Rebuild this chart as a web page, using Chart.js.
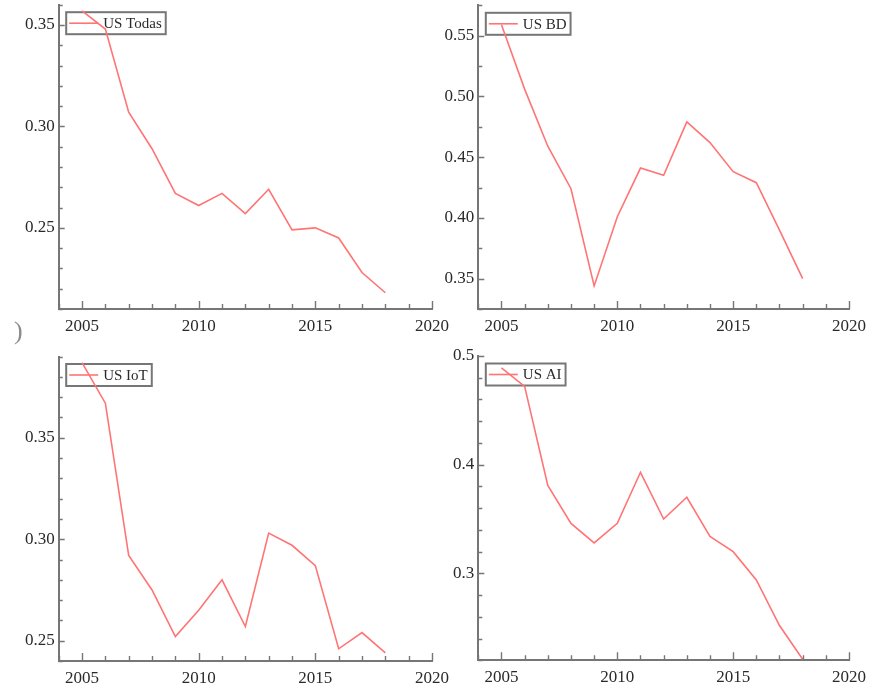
<!DOCTYPE html>
<html>
<head>
<meta charset="utf-8">
<script src="https://cdn.jsdelivr.net/npm/chart.js@4.4.1/dist/chart.umd.min.js"></script>
<style>
  html, body { margin: 0; padding: 0; background: #fff; }
  body { width: 873px; height: 687px; position: relative; overflow: hidden; }
  .panel { position: absolute; }
  .panel canvas { display: block; }
  #stray { position: absolute; left: 14px; top: 318px; font: 26px "Liberation Serif", serif; color: #8c8c8c; line-height: 1; }
</style>
</head>
<body>
<div class="panel" id="p1"><canvas id="c1"></canvas></div>
<div class="panel" id="p2"><canvas id="c2"></canvas></div>
<div class="panel" id="p3"><canvas id="c3"></canvas></div>
<div class="panel" id="p4"><canvas id="c4"></canvas></div>
<div id="stray">)</div>
<script>
// ---- data ----
const years   = [2005, 2006, 2007, 2008, 2009, 2010, 2011, 2012, 2013, 2014, 2015, 2016, 2017, 2018];
const usTodas = [0.357, 0.348, 0.307, 0.289, 0.267, 0.261, 0.267, 0.257, 0.269, 0.249, 0.250, 0.245, 0.228, 0.218];
const usBD    = [0.559, 0.506, 0.459, 0.424, 0.344, 0.401, 0.441, 0.435, 0.479, 0.462, 0.438, 0.429, 0.390, 0.350];
const usIoT   = [0.387, 0.367, 0.292, 0.275, 0.252, 0.265, 0.280, 0.257, 0.303, 0.297, 0.287, 0.246, 0.254, 0.244];
const usAI    = [0.489, 0.472, 0.381, 0.346, 0.328, 0.346, 0.393, 0.350, 0.370, 0.334, 0.320, 0.294, 0.252, 0.221];

// ---- tick labels ----
const yearTicks = [2005, 2010, 2015, 2020];
const ticksTodas = [0.25, 0.30, 0.35];
const ticksBD    = [0.35, 0.40, 0.45, 0.50, 0.55];
const ticksIoT   = [0.25, 0.30, 0.35];
const ticksAI    = [0.3, 0.4, 0.5];

// ---- panel setup (axis ranges and placement) ----
const panels = [
  { canvas: 'c1', box: 'p1', label: 'US Todas', values: usTodas, majors: ticksTodas, digits: 2,
    yMin: 0.21, yMax: 0.36, yStep: 0.01,
    left: 0,   top: -20, width: 460, height: 360, padTop: 24.7, padRight: 28,   axisW: 58.7, axisH: 31 },
  { canvas: 'c2', box: 'p2', label: 'US BD', values: usBD, majors: ticksBD, digits: 2,
    yMin: 0.325, yMax: 0.575, yStep: 0.025,
    left: 420, top: -20, width: 453, height: 360, padTop: 25.3, padRight: 22.3, axisW: 58.3, axisH: 31 },
  { canvas: 'c3', box: 'p3', label: 'US IoT', values: usIoT, majors: ticksIoT, digits: 2,
    yMin: 0.24, yMax: 0.39, yStep: 0.01,
    left: 0,   top: 320, width: 460, height: 367, padTop: 36.5, padRight: 28,   axisW: 58.7, axisH: 26 },
  { canvas: 'c4', box: 'p4', label: 'US AI', values: usAI, majors: ticksAI, digits: 1,
    yMin: 0.22, yMax: 0.5, yStep: 0.02,
    left: 420, top: 320, width: 453, height: 367, padTop: 36, padRight: 22.3, axisW: 58.3, axisH: 26.7 }
];

const LINE = '#ff7474';
const AXIS = '#767676';
const TEXT = '#2a2a2a';
const FONT = '"Liberation Serif", "Times New Roman", serif';

function stepValues(min, max, step) {
  const out = [];
  const n = Math.round((max - min) / step);
  for (let i = 0; i <= n; i++) out.push(+(min + i * step).toFixed(6));
  return out;
}
const near = (list, v) => list.some(m => Math.abs(m - v) < 1e-6);

// inward tick marks: long on labelled values, short on the rest
const tickMarks = {
  id: 'tickMarks',
  afterDraw(chart, args, opts) {
    const { ctx, chartArea: a } = chart;
    const xs = chart.scales.x, ys = chart.scales.y;
    ctx.save();
    ctx.strokeStyle = AXIS;
    ctx.lineWidth = 1.4;
    ctx.beginPath();
    xs.ticks.forEach(t => {
      const px = Math.round(xs.getPixelForValue(t.value)) + 0.5;
      const len = near(yearTicks, t.value) ? 8 : 5;
      ctx.moveTo(px, a.bottom);
      ctx.lineTo(px, a.bottom - len);
    });
    ys.ticks.forEach(t => {
      const py = Math.round(ys.getPixelForValue(t.value)) + 0.5;
      const len = near(opts.majors, t.value) ? 6 : 4;
      ctx.moveTo(a.left, py);
      ctx.lineTo(a.left + len, py);
    });
    ctx.stroke();
    ctx.restore();
  }
};

// boxed legend in the upper-left corner, drawn beneath the data line
const boxLegend = {
  id: 'boxLegend',
  beforeDatasetsDraw(chart) {
    const { ctx, chartArea: a } = chart;
    const ds = chart.data.datasets[0];
    ctx.save();
    ctx.font = '15px ' + FONT;
    const tw = ctx.measureText(ds.label).width;
    const bx = a.left + 7.5, by = a.top + 7.5, bh = 22;
    const bw = 37 + tw + 4;
    ctx.fillStyle = '#fff';
    ctx.fillRect(bx, by, bw, bh);
    ctx.strokeStyle = AXIS;
    ctx.lineWidth = 2;
    ctx.strokeRect(bx, by, bw, bh);
    ctx.strokeStyle = LINE;
    ctx.lineWidth = 1.6;
    ctx.beginPath();
    ctx.moveTo(bx + 3, by + bh / 2);
    ctx.lineTo(bx + 32, by + bh / 2);
    ctx.stroke();
    ctx.fillStyle = TEXT;
    ctx.textBaseline = 'middle';
    ctx.fillText(ds.label, bx + 37, by + bh / 2 + 1);
    ctx.restore();
  }
};

panels.forEach(p => {
  const box = document.getElementById(p.box);
  box.style.left = p.left + 'px';
  box.style.top = p.top + 'px';
  const cv = document.getElementById(p.canvas);
  cv.width = p.width;
  cv.height = p.height;
  cv.style.width = p.width + 'px';
  cv.style.height = p.height + 'px';

  new Chart(cv, {
    type: 'line',
    data: {
      datasets: [{
        label: p.label,
        data: years.map((yr, i) => ({ x: yr, y: p.values[i] })),
        borderColor: LINE,
        borderWidth: 1.6,
        pointRadius: 0,
        tension: 0,
        fill: false
      }]
    },
    options: {
      responsive: false,
      animation: false,
      devicePixelRatio: 1,
      layout: { padding: { top: p.padTop, right: p.padRight, left: 0, bottom: 0 } },
      plugins: {
        legend: { display: false },
        tooltip: { enabled: false },
        tickMarks: { majors: p.majors }
      },
      scales: {
        x: {
          type: 'linear',
          min: 2004,
          max: 2020,
          afterBuildTicks: s => { s.ticks = stepValues(2004, 2020, 1).map(v => ({ value: v })); },
          afterFit: s => { s.height = p.axisH; },
          grid: { display: false, drawTicks: false, tickLength: 0 },
          border: { display: true, color: AXIS, width: 2 },
          ticks: {
            autoSkip: false,
            maxRotation: 0,
            padding: 7,
            color: TEXT,
            font: { family: FONT, size: 17 },
            callback: v => near(yearTicks, v) ? String(Math.round(v)) : ''
          }
        },
        y: {
          type: 'linear',
          min: p.yMin,
          max: p.yMax,
          afterBuildTicks: s => { s.ticks = stepValues(p.yMin, p.yMax, p.yStep).map(v => ({ value: v })); },
          afterFit: s => { s.width = p.axisW; },
          grid: { display: false, drawTicks: false, tickLength: 0 },
          border: { display: true, color: AXIS, width: 2 },
          ticks: {
            autoSkip: false,
            padding: 4,
            color: TEXT,
            font: { family: FONT, size: 17 },
            callback: v => near(p.majors, v) ? Number(v).toFixed(p.digits) : ''
          }
        }
      }
    },
    plugins: [boxLegend, tickMarks]
  });
});
</script>
</body>
</html>
